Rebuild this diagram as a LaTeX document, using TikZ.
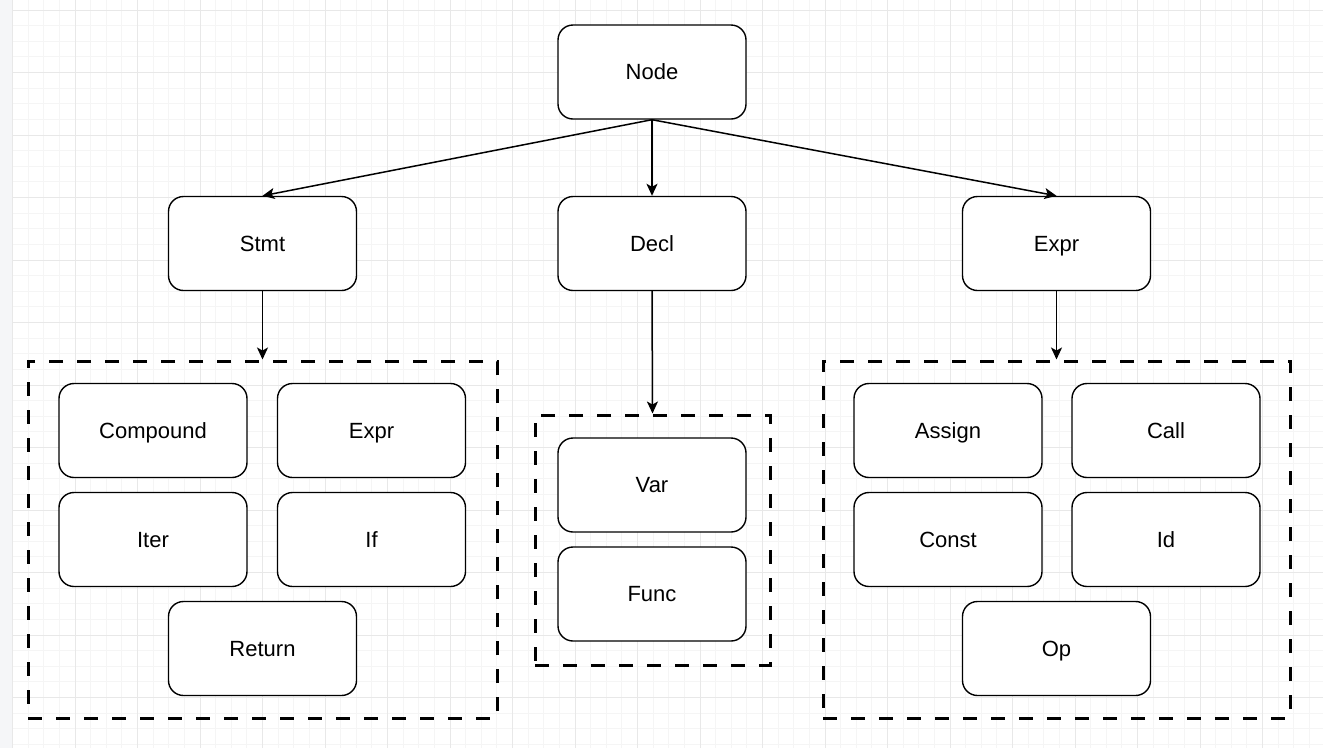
\documentclass[tikz,border=0pt]{standalone}
\usepackage{fontspec}
\setmainfont{Liberation Sans}
\usetikzlibrary{arrows.meta}
\definecolor{stripgray}{HTML}{F5F6F8}
\definecolor{minorgrid}{HTML}{F5F5F5}
\definecolor{majorgrid}{HTML}{E8E8E8}
\tikzset{
  box/.style={draw=black, line width=1.4pt, rounded corners=15pt, fill=white,
    minimum width=188pt, minimum height=94pt, inner sep=0pt,
    text height=15.8pt, text depth=0pt,
    font=\fontsize{22}{26}\selectfont},
  dbox/.style={draw=black, line width=3pt, dash pattern=on 14pt off 14pt, inner sep=0pt},
  conn/.style={line width=1.5pt, -{Stealth[length=12pt,width=11pt,inset=3pt]}},
}
\begin{document}
\begin{tikzpicture}[x=1pt,y=-1pt]
\useasboundingbox (0,0) rectangle (1323,748);
\fill[white] (0,0) rectangle (1323,748);
\fill[stripgray] (0,0) rectangle (12.5,748);
% minor grid
\foreach \i in {0,...,84} {
  \draw[minorgrid, line width=1pt] ({12.5+15.625*\i},0) -- ({12.5+15.625*\i},748);
}
\foreach \j in {0,...,48} {
  \draw[minorgrid, line width=1pt] (12.5,{-5.625+15.625*\j}) -- (1323,{-5.625+15.625*\j});
}
% major grid
\foreach \i in {0,...,21} {
  \draw[majorgrid, line width=1pt] ({12.5+62.5*\i},0) -- ({12.5+62.5*\i},748);
}
\foreach \j in {0,...,12} {
  \draw[majorgrid, line width=1pt] (12.5,{10+62.5*\j}) -- (1323,{10+62.5*\j});
}

% dashed group frames
\node[dbox, minimum width=469pt, minimum height=357pt] (lgroup) at (262.5,539.5) {};
\node[dbox, minimum width=235pt, minimum height=250pt] (mgroup) at (652.5,540) {};
\node[dbox, minimum width=467pt, minimum height=357pt] (rgroup) at (1056.5,539.5) {};

% main nodes
\node[box] (node) at (652,72) {Node};
\node[box] (stmt) at (262.5,243.5) {Stmt};
\node[box] (decl) at (652,243.5) {Decl};
\node[box] (expr) at (1056.5,243.5) {Expr};

% statement kinds
\node[box] (compound) at (153,430.5) {Compound};
\node[box] (sexpr) at (371.5,430.5) {Expr};
\node[box] (iter) at (153,539.5) {Iter};
\node[box] (if) at (371.5,539.5) {If};
\node[box] (return) at (262.5,648.5) {Return};

% declaration kinds
\node[box] (var) at (652,485) {Var};
\node[box] (func) at (652,594) {Func};

% expression kinds
\node[box] (assign) at (948,430.5) {Assign};
\node[box] (call) at (1166,430.5) {Call};
\node[box] (const) at (948,539.5) {Const};
\node[box] (id) at (1166,539.5) {Id};
\node[box] (op) at (1056.5,648.5) {Op};

% connectors
\draw[conn] (node.south) -- (stmt.north);
\draw[conn] (node.south) -- (decl.north);
\draw[conn] (node.south) -- (expr.north);
\draw[conn] (stmt.south) -- (lgroup.north);
\draw[conn] (decl.south) -- (mgroup.north);
\draw[conn] (expr.south) -- (rgroup.north);
\end{tikzpicture}
\end{document}
